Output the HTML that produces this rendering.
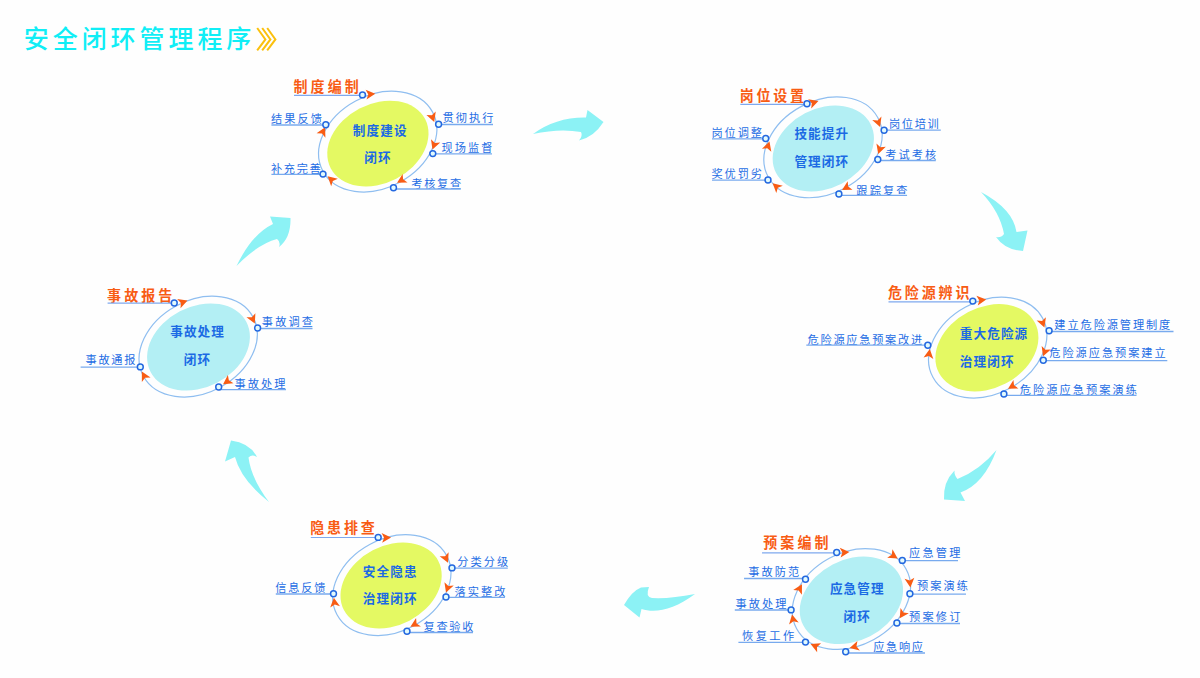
<!DOCTYPE html>
<html lang="zh-CN"><head><meta charset="utf-8"><title>安全闭环管理程序</title>
<style>html,body{margin:0;padding:0;background:#fefefe}body{width:1200px;height:678px;overflow:hidden}svg{display:block}</style>
</head><body>
<svg width="1200" height="678" viewBox="0 0 1200 678" font-family='&quot;Liberation Sans&quot;, &quot;Noto Sans CJK SC&quot;, sans-serif'>
<rect width="1200" height="678" fill="#fefefe"/>
<text x="23.8" y="48.3" font-size="25" fill="#10eef6" font-weight="500" letter-spacing="3.93" text-anchor="start">安全闭环管理程序</text>
<path d="M257.2 28 L265.4 39.4 L257.2 50.4" fill="none" stroke="#fbc00e" stroke-width="2"/>
<path d="M262.2 28 L270.4 39.4 L262.2 50.4" fill="none" stroke="#fbc00e" stroke-width="2"/>
<path d="M267.2 28 L275.4 39.4 L267.2 50.4" fill="none" stroke="#fbc00e" stroke-width="2"/>
<path d="M533 134 Q556 117 586 117.5 L587.5 110 L603.5 122 Q594 137 579 140.5 Q583 136 581 132 Q560 128 533 134 Z" fill="#8cf2f5"/>
<path d="M981 192 Q1013 209 1016.5 232 L1027.5 230.5 L1023 251 Q1005 250 996 237 Q1001 238 1004 234 Q1000 212 981 192 Z" fill="#8cf2f5"/>
<path d="M996.5 450 Q980 470 957.5 479 Q954 475 954.5 470.5 Q943 482 944 499.5 L965 501 L960.5 492.5 Q984 484 996.5 450 Z" fill="#8cf2f5"/>
<path d="M695 594 Q670 599 652 598 Q645 597 649 587 L641 587.5 Q632 591 624 605 L639.5 617.5 L641.5 609 C655 613.5 674 610 695 594 Z" fill="#8cf2f5"/>
<path d="M269 502 Q241 480 235 457 L225 461.5 L231 440.5 Q250 443 257 457 Q252 454 248.5 457.5 Q251 478 269 502 Z" fill="#8cf2f5"/>
<path d="M236.5 266 Q252 234 273 224 L270 216.5 L290.5 218 Q291 238 279 247 Q281 242 277 239 Q258 244 236.5 266 Z" fill="#8cf2f5"/>
<ellipse cx="377.7" cy="141.6" rx="62.3" ry="46.3" transform="rotate(-28.5 377.7 141.6)" fill="none" stroke="#8fbef0" stroke-width="1.2"/>
<ellipse cx="377.9" cy="143.6" rx="53.21" ry="39.69" transform="rotate(-27.5 377.9 143.6)" fill="#e4f963"/>
<path d="M4.5 0 L-4.2 -4.65 L-2.1 0 L-4.2 4.65 Z" fill="#f85c14" transform="translate(370.5 94.2) rotate(-5.0) scale(1.06)"/>
<path d="M4.5 0 L-4.2 -4.65 L-2.1 0 L-4.2 4.65 Z" fill="#f85c14" transform="translate(432.6 117.4) rotate(70.2) scale(1.06)"/>
<path d="M4.5 0 L-4.2 -4.65 L-2.1 0 L-4.2 4.65 Z" fill="#f85c14" transform="translate(434.1 145.0) rotate(109.9) scale(1.06)"/>
<path d="M4.5 0 L-4.2 -4.65 L-2.1 0 L-4.2 4.65 Z" fill="#f85c14" transform="translate(401.2 180.4) rotate(150.0) scale(1.06)"/>
<path d="M4.5 0 L-4.2 -4.65 L-2.1 0 L-4.2 4.65 Z" fill="#f85c14" transform="translate(331.2 179.5) rotate(-137.7) scale(1.06)"/>
<path d="M4.5 0 L-4.2 -4.65 L-2.1 0 L-4.2 4.65 Z" fill="#f85c14" transform="translate(323.0 131.5) rotate(-63.2) scale(1.06)"/>
<text transform="translate(293.44 91.5) scale(1 1.02)" font-size="14" fill="#f85c14" font-weight="700" letter-spacing="3.11">制度编制</text>
<line x1="294" y1="95.4" x2="362.5" y2="95.4" stroke="#7ea8ee" stroke-width="1.1"/>
<circle cx="362.5" cy="94.9" r="2.95" fill="#e2fafd" stroke="#2468e0" stroke-width="1.5"/>
<text x="442.55" y="121.8" font-size="11.2" fill="#256de4" font-weight="400" letter-spacing="2.03" text-anchor="start">贯彻执行</text>
<line x1="438.6" y1="124.5" x2="493" y2="124.5" stroke="#78aaee" stroke-width="1.3"/>
<circle cx="438.6" cy="124.3" r="2.95" fill="#e2fafd" stroke="#2468e0" stroke-width="1.5"/>
<text x="441.55" y="151.9" font-size="11.2" fill="#256de4" font-weight="400" letter-spacing="2.03" text-anchor="start">现场监督</text>
<line x1="432.8" y1="153.8" x2="492" y2="153.8" stroke="#78aaee" stroke-width="1.3"/>
<circle cx="432.8" cy="153.6" r="2.95" fill="#e2fafd" stroke="#2468e0" stroke-width="1.5"/>
<text x="411.35" y="188.1" font-size="11.2" fill="#256de4" font-weight="400" letter-spacing="1.7" text-anchor="start">考核复查</text>
<line x1="393.5" y1="189" x2="460.8" y2="189" stroke="#78aaee" stroke-width="1.3"/>
<circle cx="393.5" cy="187.7" r="2.95" fill="#e2fafd" stroke="#2468e0" stroke-width="1.5"/>
<text x="270.95" y="173.1" font-size="11.2" fill="#256de4" font-weight="400" letter-spacing="1.67" text-anchor="start">补充完善</text>
<line x1="271.4" y1="174.4" x2="323" y2="174.4" stroke="#78aaee" stroke-width="1.3"/>
<circle cx="323" cy="174.1" r="2.95" fill="#e2fafd" stroke="#2468e0" stroke-width="1.5"/>
<text x="270.95" y="123.1" font-size="11.2" fill="#256de4" font-weight="400" letter-spacing="2.07" text-anchor="start">结果反馈</text>
<line x1="271.4" y1="125" x2="325.8" y2="125" stroke="#78aaee" stroke-width="1.3"/>
<circle cx="325.8" cy="124.8" r="2.95" fill="#e2fafd" stroke="#2468e0" stroke-width="1.5"/>
<text x="352.8" y="134.7" font-size="12.6" fill="#1b6ae4" font-weight="700" letter-spacing="1.1" text-anchor="start">制度建设</text>
<text x="364.2" y="161.9" font-size="12.6" fill="#1b6ae4" font-weight="700" letter-spacing="1.1" text-anchor="start">闭环</text>
<ellipse cx="823" cy="147.3" rx="62.3" ry="46.3" transform="rotate(-28.5 823 147.3)" fill="none" stroke="#8fbef0" stroke-width="1.2"/>
<ellipse cx="823.3" cy="148.5" rx="53.21" ry="39.69" transform="rotate(-27.5 823.3 148.5)" fill="#b3eff4"/>
<path d="M4.5 0 L-4.2 -4.65 L-2.1 0 L-4.2 4.65 Z" fill="#f85c14" transform="translate(813.9 102.5) rotate(-18.0) scale(1.06)"/>
<path d="M4.5 0 L-4.2 -4.65 L-2.1 0 L-4.2 4.65 Z" fill="#f85c14" transform="translate(878.4 122.5) rotate(69.5) scale(1.06)"/>
<path d="M4.5 0 L-4.2 -4.65 L-2.1 0 L-4.2 4.65 Z" fill="#f85c14" transform="translate(879.7 149.4) rotate(108.4) scale(1.06)"/>
<path d="M4.5 0 L-4.2 -4.65 L-2.1 0 L-4.2 4.65 Z" fill="#f85c14" transform="translate(846.2 187.7) rotate(150.8) scale(1.06)"/>
<path d="M4.5 0 L-4.2 -4.65 L-2.1 0 L-4.2 4.65 Z" fill="#f85c14" transform="translate(776.2 186.4) rotate(-138.6) scale(1.06)"/>
<path d="M4.5 0 L-4.2 -4.65 L-2.1 0 L-4.2 4.65 Z" fill="#f85c14" transform="translate(768.0 146.1) rotate(-72.0) scale(1.06)"/>
<text transform="translate(739.74 101.1) scale(1 1.02)" font-size="14" fill="#f85c14" font-weight="700" letter-spacing="2.77">岗位设置</text>
<line x1="740.3" y1="104.4" x2="807" y2="104.4" stroke="#7ea8ee" stroke-width="1.1"/>
<circle cx="807" cy="103.8" r="2.95" fill="#e2fafd" stroke="#2468e0" stroke-width="1.5"/>
<text x="888.95" y="128.1" font-size="11.2" fill="#256de4" font-weight="400" letter-spacing="1.67" text-anchor="start">岗位培训</text>
<line x1="884.1" y1="130.2" x2="940.8" y2="130.2" stroke="#78aaee" stroke-width="1.3"/>
<circle cx="884.1" cy="130.2" r="2.95" fill="#e2fafd" stroke="#2468e0" stroke-width="1.5"/>
<text x="885.25" y="159.4" font-size="11.2" fill="#256de4" font-weight="400" letter-spacing="2.07" text-anchor="start">考试考核</text>
<line x1="877.8" y1="160.5" x2="935.8" y2="160.5" stroke="#78aaee" stroke-width="1.3"/>
<circle cx="877.8" cy="159.5" r="2.95" fill="#e2fafd" stroke="#2468e0" stroke-width="1.5"/>
<text x="856.35" y="194.5" font-size="11.2" fill="#256de4" font-weight="400" letter-spacing="2.1" text-anchor="start">跟踪复查</text>
<line x1="838.9" y1="195.4" x2="907" y2="195.4" stroke="#78aaee" stroke-width="1.3"/>
<circle cx="838.9" cy="194" r="2.95" fill="#e2fafd" stroke="#2468e0" stroke-width="1.5"/>
<text x="711.55" y="178.1" font-size="11.2" fill="#256de4" font-weight="400" letter-spacing="1.87" text-anchor="start">奖优罚劣</text>
<line x1="712" y1="180.2" x2="768" y2="180.2" stroke="#78aaee" stroke-width="1.3"/>
<circle cx="768" cy="180" r="2.95" fill="#e2fafd" stroke="#2468e0" stroke-width="1.5"/>
<text x="711.55" y="136.9" font-size="11.2" fill="#256de4" font-weight="400" letter-spacing="1.87" text-anchor="start">岗位调整</text>
<line x1="712" y1="138.8" x2="765.7" y2="138.8" stroke="#78aaee" stroke-width="1.3"/>
<circle cx="765.7" cy="138.5" r="2.95" fill="#e2fafd" stroke="#2468e0" stroke-width="1.5"/>
<text x="794.4" y="138.2" font-size="12.6" fill="#1b6ae4" font-weight="700" letter-spacing="1.1" text-anchor="start">技能提升</text>
<text x="794.4" y="166.0" font-size="12.6" fill="#1b6ae4" font-weight="700" letter-spacing="1.1" text-anchor="start">管理闭环</text>
<ellipse cx="987.7" cy="347.6" rx="62.3" ry="46.3" transform="rotate(-28.5 987.7 347.6)" fill="none" stroke="#8fbef0" stroke-width="1.2"/>
<ellipse cx="986.9" cy="347.8" rx="54.14" ry="40.38" transform="rotate(-27.5 986.9 347.8)" fill="#e4f963"/>
<path d="M4.5 0 L-4.2 -4.65 L-2.1 0 L-4.2 4.65 Z" fill="#f85c14" transform="translate(981.5 300.1) rotate(-8.0) scale(1.06)"/>
<path d="M4.5 0 L-4.2 -4.65 L-2.1 0 L-4.2 4.65 Z" fill="#f85c14" transform="translate(1042.8 323.1) rotate(69.8) scale(1.06)"/>
<path d="M4.5 0 L-4.2 -4.65 L-2.1 0 L-4.2 4.65 Z" fill="#f85c14" transform="translate(1044.7 351.9) rotate(110.6) scale(1.06)"/>
<path d="M4.5 0 L-4.2 -4.65 L-2.1 0 L-4.2 4.65 Z" fill="#f85c14" transform="translate(1012.1 386.4) rotate(149.5) scale(1.06)"/>
<path d="M4.5 0 L-4.2 -4.65 L-2.1 0 L-4.2 4.65 Z" fill="#f85c14" transform="translate(929.1 353.8) rotate(-81.7) scale(1.06)"/>
<text transform="translate(887.94 297.5) scale(1 1.02)" font-size="14" fill="#f85c14" font-weight="700" letter-spacing="2.91">危险源辨识</text>
<line x1="888.5" y1="301.9" x2="972.8" y2="301.9" stroke="#7ea8ee" stroke-width="1.1"/>
<circle cx="972.8" cy="301.1" r="2.95" fill="#e2fafd" stroke="#2468e0" stroke-width="1.5"/>
<text x="1054.35" y="329.1" font-size="11.2" fill="#256de4" font-weight="400" letter-spacing="1.91" text-anchor="start">建立危险源管理制度</text>
<line x1="1049.1" y1="331.5" x2="1173.5" y2="331.5" stroke="#78aaee" stroke-width="1.3"/>
<circle cx="1049.1" cy="330.8" r="2.95" fill="#e2fafd" stroke="#2468e0" stroke-width="1.5"/>
<text x="1049.35" y="356.9" font-size="11.2" fill="#256de4" font-weight="400" letter-spacing="1.95" text-anchor="start">危险源应急预案建立</text>
<line x1="1043.3" y1="360.6" x2="1167.3" y2="360.6" stroke="#78aaee" stroke-width="1.3"/>
<circle cx="1043.3" cy="360.3" r="2.95" fill="#e2fafd" stroke="#2468e0" stroke-width="1.5"/>
<text x="1019.75" y="393.8" font-size="11.2" fill="#256de4" font-weight="400" letter-spacing="2.05" text-anchor="start">危险源应急预案演练</text>
<line x1="1003.9" y1="395.4" x2="1136.5" y2="395.4" stroke="#78aaee" stroke-width="1.3"/>
<circle cx="1003.9" cy="394" r="2.95" fill="#e2fafd" stroke="#2468e0" stroke-width="1.5"/>
<text x="807.55" y="343.6" font-size="11.2" fill="#256de4" font-weight="400" letter-spacing="1.74" text-anchor="start">危险源应急预案改进</text>
<line x1="806.3" y1="345.1" x2="927.8" y2="345.1" stroke="#78aaee" stroke-width="1.3"/>
<circle cx="927.8" cy="345.2" r="2.95" fill="#e2fafd" stroke="#2468e0" stroke-width="1.5"/>
<text x="959.8" y="338.2" font-size="12.6" fill="#1b6ae4" font-weight="700" letter-spacing="1.1" text-anchor="start">重大危险源</text>
<text x="959.8" y="366.0" font-size="12.6" fill="#1b6ae4" font-weight="700" letter-spacing="1.1" text-anchor="start">治理闭环</text>
<ellipse cx="851.4" cy="599" rx="62.3" ry="46.3" transform="rotate(-28.5 851.4 599)" fill="none" stroke="#8fbef0" stroke-width="1.2"/>
<ellipse cx="851.4" cy="600.3" rx="54.3" ry="40.5" transform="rotate(-27.5 851.4 600.3)" fill="#b3eff4"/>
<path d="M4.5 0 L-4.2 -4.65 L-2.1 0 L-4.2 4.65 Z" fill="#f85c14" transform="translate(844.6 552.3) rotate(-5.0) scale(1.06)"/>
<path d="M4.5 0 L-4.2 -4.65 L-2.1 0 L-4.2 4.65 Z" fill="#f85c14" transform="translate(893.6 555.9) rotate(32.4) scale(1.06)"/>
<path d="M4.5 0 L-4.2 -4.65 L-2.1 0 L-4.2 4.65 Z" fill="#f85c14" transform="translate(909.9 582.7) rotate(84.1) scale(1.06)"/>
<path d="M4.5 0 L-4.2 -4.65 L-2.1 0 L-4.2 4.65 Z" fill="#f85c14" transform="translate(902.3 614.3) rotate(122.6) scale(1.06)"/>
<path d="M4.5 0 L-4.2 -4.65 L-2.1 0 L-4.2 4.65 Z" fill="#f85c14" transform="translate(854.3 646.9) rotate(165.9) scale(1.06)"/>
<path d="M4.5 0 L-4.2 -4.65 L-2.1 0 L-4.2 4.65 Z" fill="#f85c14" transform="translate(815.0 646.0) rotate(-156.8) scale(1.06)"/>
<path d="M4.5 0 L-4.2 -4.65 L-2.1 0 L-4.2 4.65 Z" fill="#f85c14" transform="translate(793.0 619.1) rotate(-101.6) scale(1.06)"/>
<path d="M4.5 0 L-4.2 -4.65 L-2.1 0 L-4.2 4.65 Z" fill="#f85c14" transform="translate(799.7 588.5) rotate(-61.5) scale(1.06)"/>
<text transform="translate(763.19 547.8) scale(1 1.02)" font-size="14" fill="#f85c14" font-weight="700" letter-spacing="3.12">预案编制</text>
<line x1="762.05" y1="552.9" x2="836.7" y2="552.9" stroke="#7ea8ee" stroke-width="1.1"/>
<circle cx="836.7" cy="552.5" r="2.95" fill="#e2fafd" stroke="#2468e0" stroke-width="1.5"/>
<text x="909.05" y="556.9" font-size="11.2" fill="#256de4" font-weight="400" letter-spacing="2.2" text-anchor="start">应急管理</text>
<line x1="902.3" y1="560.7" x2="958" y2="560.7" stroke="#78aaee" stroke-width="1.3"/>
<circle cx="902.3" cy="560.4" r="2.95" fill="#e2fafd" stroke="#2468e0" stroke-width="1.5"/>
<text x="917.05" y="590.1" font-size="11.2" fill="#256de4" font-weight="400" letter-spacing="2.03" text-anchor="start">预案演练</text>
<line x1="909.9" y1="594.1" x2="966.0" y2="594.1" stroke="#78aaee" stroke-width="1.3"/>
<circle cx="909.9" cy="593.8" r="2.95" fill="#e2fafd" stroke="#2468e0" stroke-width="1.5"/>
<text x="909.05" y="621.4" font-size="11.2" fill="#256de4" font-weight="400" letter-spacing="2.2" text-anchor="start">预案修订</text>
<line x1="896.9" y1="623.5" x2="960" y2="623.5" stroke="#78aaee" stroke-width="1.3"/>
<circle cx="896.9" cy="623" r="2.95" fill="#e2fafd" stroke="#2468e0" stroke-width="1.5"/>
<text x="873.3" y="650.6" font-size="11.2" fill="#256de4" font-weight="400" letter-spacing="1.62" text-anchor="start">应急响应</text>
<line x1="845.7" y1="653" x2="925.0" y2="653" stroke="#78aaee" stroke-width="1.3"/>
<circle cx="845.7" cy="651.7" r="2.95" fill="#e2fafd" stroke="#2468e0" stroke-width="1.5"/>
<text x="742.05" y="640.1" font-size="11.2" fill="#256de4" font-weight="400" letter-spacing="2.45" text-anchor="start">恢复工作</text>
<line x1="738.4" y1="642.3" x2="805.5" y2="642.3" stroke="#78aaee" stroke-width="1.3"/>
<circle cx="805.5" cy="642.1" r="2.95" fill="#e2fafd" stroke="#2468e0" stroke-width="1.5"/>
<text x="735.55" y="607.9" font-size="11.2" fill="#256de4" font-weight="400" letter-spacing="2.03" text-anchor="start">事故处理</text>
<line x1="734.8" y1="610" x2="791.1" y2="610" stroke="#78aaee" stroke-width="1.3"/>
<circle cx="791.1" cy="609.9" r="2.95" fill="#e2fafd" stroke="#2468e0" stroke-width="1.5"/>
<text x="748.3" y="576.1" font-size="11.2" fill="#256de4" font-weight="400" letter-spacing="2.03" text-anchor="start">事故防范</text>
<line x1="744.05" y1="578.5" x2="805.5" y2="578.5" stroke="#78aaee" stroke-width="1.3"/>
<circle cx="805.5" cy="579.3" r="2.95" fill="#e2fafd" stroke="#2468e0" stroke-width="1.5"/>
<text x="829.9" y="593.0" font-size="12.6" fill="#1b6ae4" font-weight="700" letter-spacing="1.1" text-anchor="start">应急管理</text>
<text x="843.6" y="620.5" font-size="12.6" fill="#1b6ae4" font-weight="700" letter-spacing="1.1" text-anchor="start">闭环</text>
<ellipse cx="391.8" cy="585.1" rx="62.3" ry="46.3" transform="rotate(-28.5 391.8 585.1)" fill="none" stroke="#8fbef0" stroke-width="1.2"/>
<ellipse cx="391.1" cy="585.5" rx="53.21" ry="39.69" transform="rotate(-27.5 391.1 585.5)" fill="#e4f963"/>
<path d="M4.5 0 L-4.2 -4.65 L-2.1 0 L-4.2 4.65 Z" fill="#f85c14" transform="translate(386.3 537.7) rotate(-3.0) scale(1.06)"/>
<path d="M4.5 0 L-4.2 -4.65 L-2.1 0 L-4.2 4.65 Z" fill="#f85c14" transform="translate(446.0 558.3) rotate(65.5) scale(1.06)"/>
<path d="M4.5 0 L-4.2 -4.65 L-2.1 0 L-4.2 4.65 Z" fill="#f85c14" transform="translate(447.6 588.0) rotate(109.6) scale(1.06)"/>
<path d="M4.5 0 L-4.2 -4.65 L-2.1 0 L-4.2 4.65 Z" fill="#f85c14" transform="translate(414.6 624.5) rotate(150.7) scale(1.06)"/>
<path d="M4.5 0 L-4.2 -4.65 L-2.1 0 L-4.2 4.65 Z" fill="#f85c14" transform="translate(334.5 602.4) rotate(-97.7) scale(1.06)"/>
<text transform="translate(310.24 532.8) scale(1 1.02)" font-size="14" fill="#f85c14" font-weight="700" letter-spacing="2.84">隐患排查</text>
<line x1="310.8" y1="537.5" x2="378.2" y2="537.5" stroke="#7ea8ee" stroke-width="1.1"/>
<circle cx="378.2" cy="537.4" r="2.95" fill="#e2fafd" stroke="#2468e0" stroke-width="1.5"/>
<text x="457.25" y="566.1" font-size="11.2" fill="#256de4" font-weight="400" letter-spacing="2.07" text-anchor="start">分类分级</text>
<line x1="452" y1="568.2" x2="507.8" y2="568.2" stroke="#78aaee" stroke-width="1.3"/>
<circle cx="452" cy="567.9" r="2.95" fill="#e2fafd" stroke="#2468e0" stroke-width="1.5"/>
<text x="454.55" y="595.6" font-size="11.2" fill="#256de4" font-weight="400" letter-spacing="2.03" text-anchor="start">落实整改</text>
<line x1="446" y1="597.3" x2="505" y2="597.3" stroke="#78aaee" stroke-width="1.3"/>
<circle cx="446" cy="597" r="2.95" fill="#e2fafd" stroke="#2468e0" stroke-width="1.5"/>
<text x="423.55" y="631.4" font-size="11.2" fill="#256de4" font-weight="400" letter-spacing="1.7" text-anchor="start">复查验收</text>
<line x1="407" y1="632.5" x2="473" y2="632.5" stroke="#78aaee" stroke-width="1.3"/>
<circle cx="407" cy="631.2" r="2.95" fill="#e2fafd" stroke="#2468e0" stroke-width="1.5"/>
<text x="275.35" y="591.9" font-size="11.2" fill="#256de4" font-weight="400" letter-spacing="1.77" text-anchor="start">信息反馈</text>
<line x1="275.8" y1="594" x2="333.5" y2="594" stroke="#78aaee" stroke-width="1.3"/>
<circle cx="333.5" cy="593.8" r="2.95" fill="#e2fafd" stroke="#2468e0" stroke-width="1.5"/>
<text x="362.8" y="576.0" font-size="12.6" fill="#1b6ae4" font-weight="700" letter-spacing="1.1" text-anchor="start">安全隐患</text>
<text x="362.8" y="603.1" font-size="12.6" fill="#1b6ae4" font-weight="700" letter-spacing="1.1" text-anchor="start">治理闭环</text>
<ellipse cx="198.2" cy="346.6" rx="62.3" ry="46.3" transform="rotate(-28.5 198.2 346.6)" fill="none" stroke="#8fbef0" stroke-width="1.2"/>
<ellipse cx="198.5" cy="347" rx="54.03" ry="40.3" transform="rotate(-27.5 198.5 347)" fill="#b3eff4"/>
<path d="M4.5 0 L-4.2 -4.65 L-2.1 0 L-4.2 4.65 Z" fill="#f85c14" transform="translate(183.0 302.2) rotate(-20.0) scale(1.06)"/>
<path d="M4.5 0 L-4.2 -4.65 L-2.1 0 L-4.2 4.65 Z" fill="#f85c14" transform="translate(252.8 319.3) rotate(65.0) scale(1.06)"/>
<path d="M4.5 0 L-4.2 -4.65 L-2.1 0 L-4.2 4.65 Z" fill="#f85c14" transform="translate(227.0 381.6) rotate(145.5) scale(1.06)"/>
<path d="M4.5 0 L-4.2 -4.65 L-2.1 0 L-4.2 4.65 Z" fill="#f85c14" transform="translate(144.1 375.8) rotate(-118.2) scale(1.06)"/>
<text transform="translate(107.04 300.5) scale(1 1.02)" font-size="14" fill="#f85c14" font-weight="700" letter-spacing="3.11">事故报告</text>
<line x1="107.6" y1="303.1" x2="174.25" y2="303.1" stroke="#7ea8ee" stroke-width="1.1"/>
<circle cx="174.25" cy="303" r="2.95" fill="#e2fafd" stroke="#2468e0" stroke-width="1.5"/>
<text x="261.85" y="325.7" font-size="11.2" fill="#256de4" font-weight="400" letter-spacing="2.1" text-anchor="start">事故调查</text>
<line x1="257.6" y1="328.5" x2="312.5" y2="328.5" stroke="#78aaee" stroke-width="1.3"/>
<circle cx="257.6" cy="328" r="2.95" fill="#e2fafd" stroke="#2468e0" stroke-width="1.5"/>
<text x="234.55" y="387.9" font-size="11.2" fill="#256de4" font-weight="400" letter-spacing="2.03" text-anchor="start">事故处理</text>
<line x1="218.7" y1="389.6" x2="286" y2="389.6" stroke="#78aaee" stroke-width="1.3"/>
<circle cx="218.7" cy="387" r="2.95" fill="#e2fafd" stroke="#2468e0" stroke-width="1.5"/>
<text x="85.55" y="364.1" font-size="11.2" fill="#256de4" font-weight="400" letter-spacing="1.7" text-anchor="start">事故通报</text>
<line x1="80.6" y1="367.1" x2="140.3" y2="367.1" stroke="#78aaee" stroke-width="1.3"/>
<circle cx="140.3" cy="366.9" r="2.95" fill="#e2fafd" stroke="#2468e0" stroke-width="1.5"/>
<text x="170.2" y="336.3" font-size="12.6" fill="#1b6ae4" font-weight="700" letter-spacing="1.1" text-anchor="start">事故处理</text>
<text x="183.8" y="363.5" font-size="12.6" fill="#1b6ae4" font-weight="700" letter-spacing="1.1" text-anchor="start">闭环</text>
</svg>
</body></html>
